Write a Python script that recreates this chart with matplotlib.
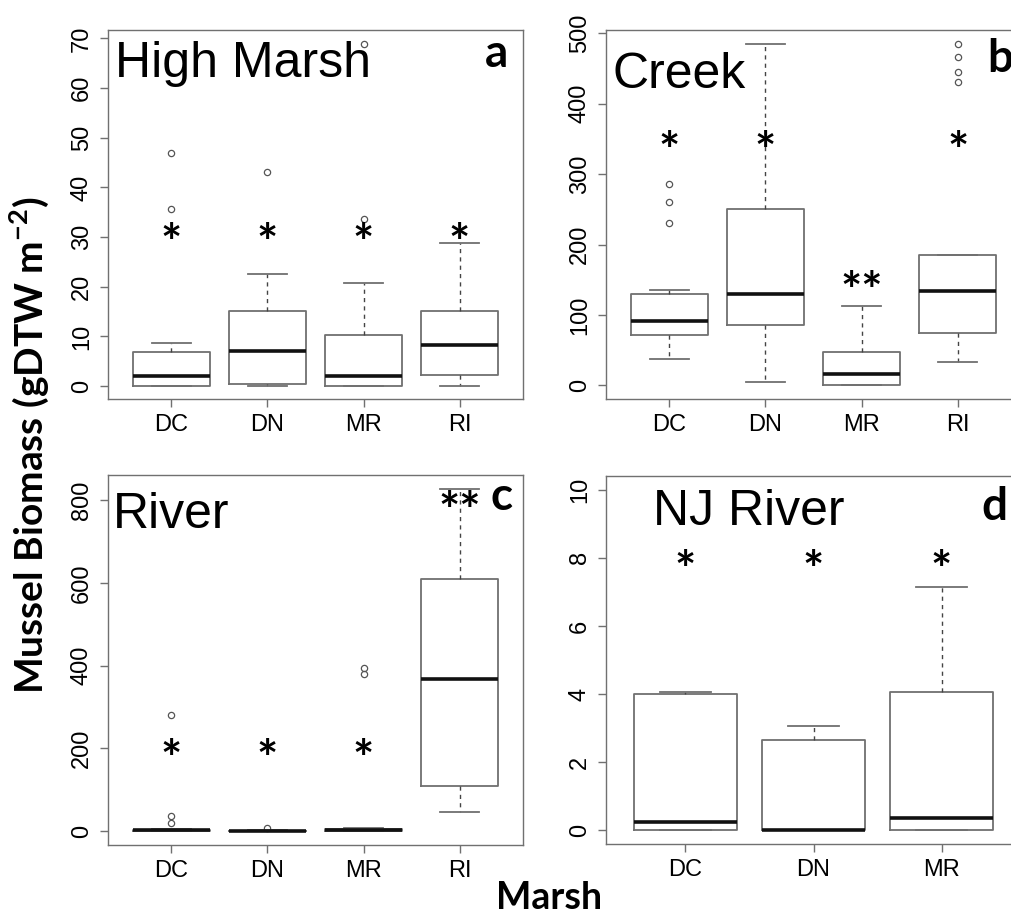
import numpy as np
import matplotlib
matplotlib.use("Agg")
import matplotlib.pyplot as plt

# ---- data (gDTW m^-2) ----
sites4 = ["DC", "DN", "MR", "RI"]
sites3 = ["DC", "DN", "MR"]

# panel a: High Marsh
hm_whislo = [0, 0, 0, 0]
hm_q1 = [0, 0.35, 0, 2.3]
hm_med = [2.0, 7.05, 2.0, 8.3]
hm_q3 = [6.85, 15.2, 10.2, 15.05]
hm_whishi = [8.7, 22.6, 20.8, 28.9]
hm_fliers = [[35.7, 46.9], [43.1], [33.7, 68.9], []]
hm_stars = ["*", "*", "*", "*"]
hm_star_y = [30.7, 30.7, 30.7, 30.7]

# panel b: Creek
cr_whislo = [37.4, 5.2, 0, 32.6]
cr_q1 = [71, 85.6, 0, 74.7]
cr_med = [91.8, 129.6, 16, 133.9]
cr_q3 = [129.6, 249.8, 46.8, 184.5]
cr_whishi = [134.8, 484.9, 112.6, 184.5]
cr_fliers = [[230, 260, 286.6], [], [], [430.5, 445.6, 466.4, 485.3]]
cr_stars = ["*", "*", "**", "*"]
cr_star_y = [346, 346, 147.6, 346]

# panel c: River
rv_whislo = [0, 0, 0, 46.7]
rv_q1 = [0, 0, 0.5, 109.6]
rv_med = [2.0, 0, 2.5, 367.4]
rv_q3 = [3.5, 1.0, 4.0, 609.2]
rv_whishi = [5.0, 2.0, 6.4, 826.8]
rv_fliers = [[18.5, 37, 279.6], [8], [378.7, 394.8], []]
rv_stars = ["*", "*", "*", "**"]
rv_star_y = [196, 196, 196, 796]

# panel d: NJ River
nj_whislo = [0, 0, 0]
nj_q1 = [0, 0, 0]
nj_med = [0.24, 0.0, 0.37]
nj_q3 = [3.99, 2.64, 4.06]
nj_whishi = [4.05, 3.06, 7.15]
nj_fliers = [[], [], []]
nj_stars = ["*", "*", "*"]
nj_star_y = [7.93, 7.93, 7.93]

plt.rcParams["mathtext.fontset"] = "custom"
plt.rcParams["mathtext.rm"] = "Lato"
plt.rcParams["mathtext.bf"] = "Lato:bold"

fig = plt.figure(figsize=(10.11, 9.17), dpi=100)

tick_font = "Liberation Sans"
gray = "#707070"


def panel(rect, names, whislo, q1, med, q3, whishi, fliers, stars, star_y,
          ylim, yticks, title, title_xy, letter, letter_xy):
    ax = fig.add_axes(rect)
    stats = []
    for i, n in enumerate(names):
        stats.append(dict(label=n, whislo=whislo[i], q1=q1[i], med=med[i],
                          q3=q3[i], whishi=whishi[i], fliers=fliers[i]))
    n = len(names)
    ax.bxp(stats, positions=np.arange(1, n + 1), widths=0.8,
           boxprops=dict(color=gray, linewidth=1.3),
           whiskerprops=dict(color="#444444", linewidth=1.0, linestyle=(0, (3, 3))),
           capprops=dict(color=gray, linewidth=1.3),
           medianprops=dict(color="#111111", linewidth=2.6, solid_capstyle="butt"),
           flierprops=dict(marker="o", markerfacecolor="none",
                           markeredgecolor="#555555", markersize=4.5,
                           markeredgewidth=0.9))
    ax.set_xlim(0.5 - 0.04 * n, n + 0.5 + 0.04 * n)
    ax.set_ylim(*ylim)
    ax.set_yticks(yticks)
    ax.set_xticks(np.arange(1, n + 1))
    ax.set_xticklabels(names)
    for s in ax.spines.values():
        s.set_color(gray)
        s.set_linewidth(1.0)
    ax.tick_params(axis="both", length=5.8, width=1.0, color=gray,
                   labelsize=17, pad=5)
    ax.tick_params(axis="y", labelrotation=90)
    for lbl in ax.get_xticklabels() + ax.get_yticklabels():
        lbl.set_fontfamily(tick_font)
    for lbl in ax.get_yticklabels():
        lbl.set_va("center")

    # significance asterisks (glyph centre placed at star_y)
    for i, (s, y) in enumerate(zip(stars, star_y)):
        ax.annotate(s, xy=(i + 1, y), xytext=(0, -19), textcoords="offset points",
                    ha="center", va="baseline", fontsize=36,
                    fontfamily="Lato", fontweight="bold")

    ax.text(title_xy[0], title_xy[1], title, transform=ax.transAxes,
            ha="left", va="baseline", fontsize=36, fontfamily=tick_font)
    ax.text(letter_xy[0], letter_xy[1], letter, transform=ax.transAxes,
            ha="center", va="baseline", fontsize=33, fontfamily="Lato",
            fontweight="bold", clip_on=False)
    return ax


panel([0.1068, 0.5649, 0.4105, 0.4024], sites4, hm_whislo, hm_q1, hm_med,
      hm_q3, hm_whishi, hm_fliers, hm_stars, hm_star_y,
      (-2.6, 71.7), np.arange(0, 71, 10), "High Marsh", (0.017, 0.873),
      "a", (0.937, 0.90))
panel([0.5994, 0.5649, 0.4105, 0.4024], sites4, cr_whislo, cr_q1, cr_med,
      cr_q3, cr_whishi, cr_fliers, cr_stars, cr_star_y,
      (-19.4, 504.7), np.arange(0, 501, 100), "Creek", (0.0145, 0.843),
      "b", (0.949, 0.886))
panel([0.1068, 0.0785, 0.4105, 0.4035], sites4, rv_whislo, rv_q1, rv_med,
      rv_q3, rv_whishi, rv_fliers, rv_stars, rv_star_y,
      (-33.8, 860.6), np.arange(0, 801, 200), "River", (0.012, 0.857),
      "c", (0.949, 0.905))
panel([0.5994, 0.0796, 0.4105, 0.4013], sites3, nj_whislo, nj_q1, nj_med,
      nj_q3, nj_whishi, nj_fliers, nj_stars, nj_star_y,
      (-0.4, 10.4), np.arange(0, 11, 2), "NJ River", (0.113, 0.867),
      "d", (0.937, 0.880))

fig.text(0.029, 0.515, r"Mussel Biomass (gDTW m$^{\mathbf{-2}}$)", rotation=90,
         ha="center", va="center", fontsize=28, fontfamily="Lato",
         fontweight="bold")
fig.text(0.543, 0.002, "Marsh", ha="center", va="bottom", fontsize=27,
         fontfamily="Lato", fontweight="bold")

fig.savefig("out.png", dpi=100)
